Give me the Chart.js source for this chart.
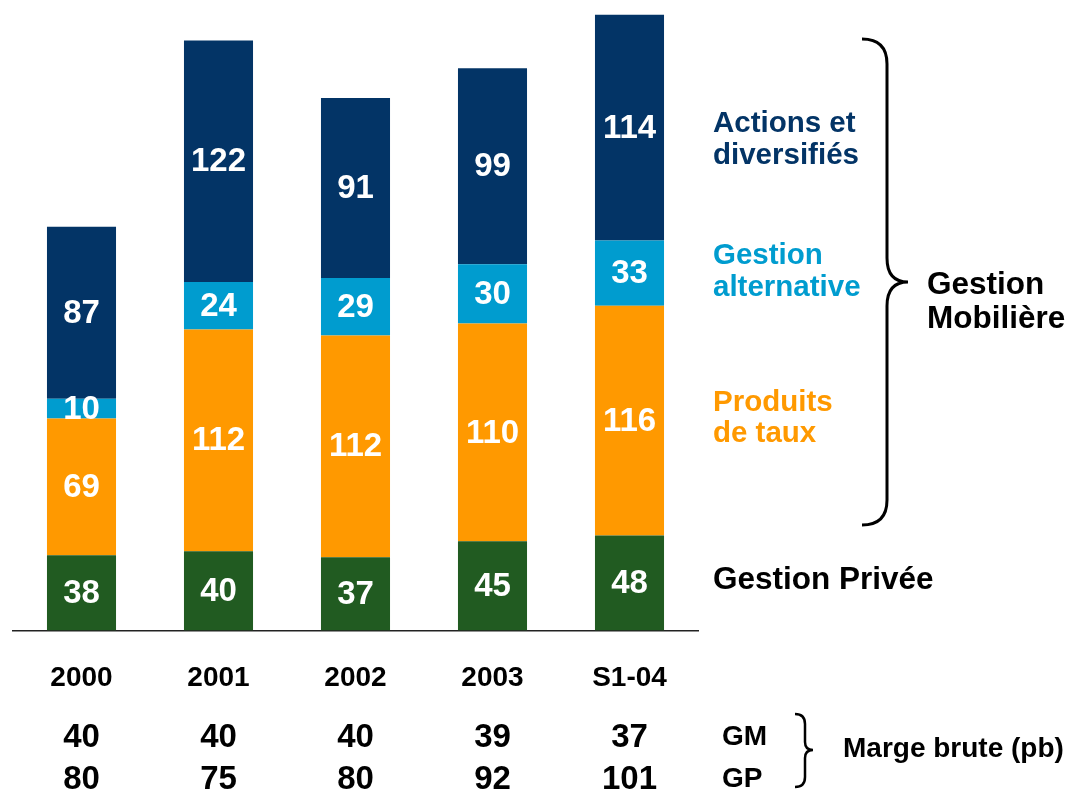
<!DOCTYPE html>
<html>
<head>
<meta charset="utf-8">
<script src="https://cdn.jsdelivr.net/npm/chart.js@4/dist/chart.umd.min.js"></script>
<style>
  html, body { margin: 0; padding: 0; background: #fff; }
  #wrap { width: 1077px; height: 789px; position: relative; }
</style>
</head>
<body>
<div id="wrap"><canvas id="chart"></canvas></div>
<script>
const years = ['2000', '2001', '2002', '2003', 'S1-04'];
const gestionPrivee = [38, 40, 37, 45, 48];
const produitsTaux = [69, 112, 112, 110, 116];
const gestionAlternative = [10, 24, 29, 30, 33];
const actionsDiversifies = [87, 122, 91, 99, 114];
const margeGM = [40, 40, 40, 39, 37];
const margeGP = [80, 75, 80, 92, 101];

const FONT = '"Liberation Sans", Arial, sans-serif';
const NAVY = '#033466';
const BLUE = '#009CCF';
const ORANGE = '#FF9900';
const GREEN = '#215B21';

// white value labels centred in each segment
const segmentLabels = {
  id: 'segmentLabels',
  afterDatasetsDraw(chart) {
    const ctx = chart.ctx;
    ctx.save();
    ctx.fillStyle = '#fff';
    ctx.font = 'bold 33px ' + FONT;
    ctx.textAlign = 'center';
    ctx.textBaseline = 'middle';
    chart.data.datasets.forEach((ds, i) => {
      chart.getDatasetMeta(i).data.forEach((bar, j) => {
        ctx.fillText(ds.data[j], bar.x, (bar.y + bar.base) / 2 + 1);
      });
    });
    ctx.restore();
  }
};

// side legend, braces and margin rows
const annotations = {
  id: 'annotations',
  afterDraw(chart) {
    const ctx = chart.ctx;
    const x = chart.scales.x;
    ctx.save();
    ctx.textAlign = 'left';
    ctx.textBaseline = 'alphabetic';

    ctx.font = 'bold 29.5px ' + FONT;
    ctx.fillStyle = NAVY;
    ctx.fillText('Actions et', 713, 132);
    ctx.fillText('diversifiés', 713, 164);
    ctx.fillStyle = BLUE;
    ctx.fillText('Gestion', 713, 264);
    ctx.fillText('alternative', 713, 296);
    ctx.fillStyle = ORANGE;
    ctx.fillText('Produits', 713, 411);
    ctx.fillText('de taux', 713, 442);

    ctx.fillStyle = '#000';
    ctx.font = 'bold 31.5px ' + FONT;
    ctx.fillText('Gestion Privée', 713, 589);
    ctx.fillText('Gestion', 927, 294);
    ctx.fillText('Mobilière', 927, 328);

    ctx.font = 'bold 28px ' + FONT;
    ctx.fillText('GM', 722, 745);
    ctx.fillText('GP', 722, 787);
    ctx.fillText('Marge brute (pb)', 843, 757);

    // big brace
    ctx.strokeStyle = '#000';
    ctx.lineWidth = 3;
    ctx.beginPath();
    ctx.moveTo(862, 39);
    ctx.quadraticCurveTo(887, 39, 887, 64);
    ctx.lineTo(887, 258);
    ctx.quadraticCurveTo(887, 282, 908, 282);
    ctx.quadraticCurveTo(887, 282, 887, 306);
    ctx.lineTo(887, 500);
    ctx.quadraticCurveTo(887, 525, 862, 525);
    ctx.stroke();

    // small brace
    ctx.lineWidth = 2.5;
    ctx.beginPath();
    ctx.moveTo(795, 714);
    ctx.quadraticCurveTo(805, 714, 805, 724);
    ctx.lineTo(805, 742);
    ctx.quadraticCurveTo(805, 750, 813, 750);
    ctx.quadraticCurveTo(805, 750, 805, 758);
    ctx.lineTo(805, 777);
    ctx.quadraticCurveTo(805, 787, 795, 787);
    ctx.stroke();

    // margin rows under each bar
    ctx.textAlign = 'center';
    ctx.font = 'bold 33px ' + FONT;
    years.forEach((y, i) => {
      const px = x.getPixelForValue(i);
      ctx.fillText(margeGM[i], px, 747);
      ctx.fillText(margeGP[i], px, 789);
    });
    ctx.restore();
  }
};

new Chart(document.getElementById('chart'), {
  type: 'bar',
  data: {
    labels: years,
    datasets: [
      { label: 'Gestion Privée', data: gestionPrivee, backgroundColor: GREEN },
      { label: 'Produits de taux', data: produitsTaux, backgroundColor: ORANGE },
      { label: 'Gestion alternative', data: gestionAlternative, backgroundColor: BLUE },
      { label: 'Actions et diversifiés', data: actionsDiversifies, backgroundColor: NAVY }
    ]
  },
  options: {
    responsive: true,
    maintainAspectRatio: false,
    animation: false,
    layout: { padding: { left: 13, right: 379, top: 1, bottom: 63 } },
    datasets: { bar: { barPercentage: 0.504, categoryPercentage: 1 } },
    plugins: { legend: { display: false }, tooltip: { enabled: false } },
    scales: {
      x: {
        stacked: true,
        grid: { display: true, drawOnChartArea: false, drawTicks: false, color: 'rgba(0,0,0,0)' },
        border: { display: true, color: '#222', width: 1.5 },
        ticks: { color: '#000', font: { family: FONT, size: 28, weight: 'bold' }, padding: 31, maxRotation: 0 }
      },
      y: {
        stacked: true,
        display: false,
        min: 0,
        max: 318
      }
    }
  },
  plugins: [segmentLabels, annotations]
});
</script>
</body>
</html>
